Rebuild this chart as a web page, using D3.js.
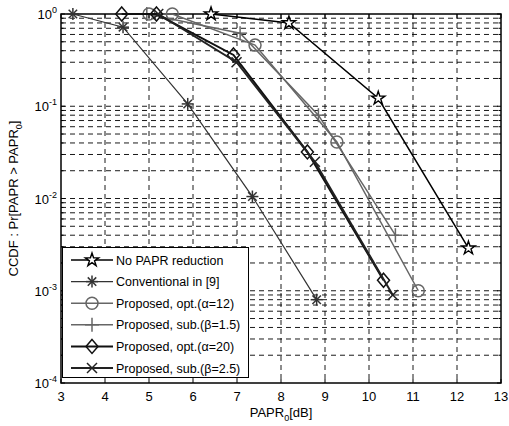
<!DOCTYPE html>
<html>
<head>
<script src="https://d3js.org/d3.v7.min.js"></script>
<style>
  body { margin: 0; background: #fff; }
  text { font-family: "Liberation Sans", Arial, sans-serif; }
</style>
</head>
<body>
<svg></svg>
<script>
// values
const noReduction = [[6.41, 1.0], [8.18, 0.80], [10.21, 0.122], [12.26, 0.0029]];
const conventional = [[3.27, 1.0], [4.41, 0.72], [5.88, 0.106], [7.35, 0.0105], [8.81, 0.0008]];
const optA12 = [[5.0, 1.0], [5.53, 1.0], [7.41, 0.46], [9.27, 0.041], [11.12, 0.001]];
const subB15 = [[4.95, 1.0], [7.07, 0.62], [8.85, 0.08], [10.6, 0.004]];
const optA20 = [[4.38, 1.0], [5.17, 1.0], [6.92, 0.36], [8.6, 0.032], [10.33, 0.0013]];
const subB25 = [[5.21, 1.0], [6.99, 0.30], [8.77, 0.025], [10.54, 0.0009]];

const seriesNames = ["No PAPR reduction", "Conventional in [9]", "Proposed, opt.(α=12)",
  "Proposed, sub.(β=1.5)", "Proposed, opt.(α=20)", "Proposed, sub.(β=2.5)"];
const xTicks = [3, 4, 5, 6, 7, 8, 9, 10, 11, 12, 13];
const yDecades = [0, -1, -2, -3, -4];

const series = [
  { name: seriesNames[0], data: noReduction, marker: "star", color: "#000", w: 1.5 },
  { name: seriesNames[1], data: conventional, marker: "asterisk", color: "#333", w: 1.2 },
  { name: seriesNames[2], data: optA12, marker: "circle", color: "#666", w: 1.5 },
  { name: seriesNames[3], data: subB15, marker: "plus", color: "#666", w: 1.5 },
  { name: seriesNames[4], data: optA20, marker: "diamond", color: "#111", w: 2 },
  { name: seriesNames[5], data: subB25, marker: "cross", color: "#222", w: 2 }
];

const width = 509, height = 426;
const margin = { left: 61, right: 8, top: 14, bottom: 43 };

const svg = d3.select("svg").attr("width", width).attr("height", height);

const x = d3.scaleLinear().domain([3, 13]).range([margin.left, width - margin.right]);
const y = d3.scaleLog().domain([1e-4, 1]).range([height - margin.bottom, margin.top]);

// grid
const minorVals = [];
for (let e = -4; e < 0; e++) for (let m = 1; m < 10; m++) minorVals.push(m * Math.pow(10, e));
minorVals.push(1);

const grid = svg.append("g");
grid.selectAll(".gv").data(xTicks.slice(1, -1)).enter().append("line")
  .attr("x1", d => x(d)).attr("x2", d => x(d))
  .attr("y1", y(1)).attr("y2", y(1e-4))
  .attr("stroke", "#000").attr("stroke-width", 0.9).attr("stroke-dasharray", "5,4");
grid.selectAll(".gh").data(minorVals.filter(v => v > 1e-4 && v < 1)).enter().append("line")
  .attr("x1", x(3)).attr("x2", x(13))
  .attr("y1", d => y(d)).attr("y2", d => y(d))
  .attr("stroke", "#000").attr("stroke-width", 0.9).attr("stroke-dasharray", "5,4");

// ticks on all sides
const ticks = svg.append("g").attr("stroke", "#000").attr("stroke-width", 1);
xTicks.forEach(t => {
  ticks.append("line").attr("x1", x(t)).attr("x2", x(t)).attr("y1", y(1e-4)).attr("y2", y(1e-4) - 4);
  ticks.append("line").attr("x1", x(t)).attr("x2", x(t)).attr("y1", y(1)).attr("y2", y(1) + 4);
});
minorVals.forEach(v => {
  const len = Number.isInteger(Math.log10(v)) ? 4 : 2.5;
  const yy = y(v);
  ticks.append("line").attr("x1", x(3)).attr("x2", x(3) + len).attr("y1", yy).attr("y2", yy);
  ticks.append("line").attr("x1", x(13)).attr("x2", x(13) - len).attr("y1", yy).attr("y2", yy);
});

// frame
svg.append("rect")
  .attr("x", x(3)).attr("y", y(1))
  .attr("width", x(13) - x(3)).attr("height", y(1e-4) - y(1))
  .attr("fill", "none").attr("stroke", "#000").attr("stroke-width", 1.5);

// tick labels
svg.selectAll(".xl").data(xTicks).enter().append("text")
  .attr("x", d => x(d)).attr("y", y(1e-4) + 18)
  .attr("text-anchor", "middle").attr("font-size", 13).text(d => d);

yDecades.forEach(e => {
  const t = svg.append("text").attr("x", x(3) - 4).attr("y", y(Math.pow(10, e)) + 5)
    .attr("text-anchor", "end").attr("font-size", 13);
  t.append("tspan").text("10");
  t.append("tspan").attr("dy", -6).attr("font-size", 9).text(e);
});

// axis labels
const xl = svg.append("text").attr("x", (x(3) + x(13)) / 2).attr("y", 417)
  .attr("text-anchor", "middle").attr("font-size", 13);
xl.append("tspan").text("PAPR");
xl.append("tspan").attr("dy", 4).attr("font-size", 9).text("0");
xl.append("tspan").attr("dy", -4).text("[dB]");

const yl = svg.append("text")
  .attr("transform", `translate(18,${(y(1) + y(1e-4)) / 2}) rotate(-90)`)
  .attr("text-anchor", "middle").attr("font-size", 13);
yl.append("tspan").text("CCDF : Pr[PAPR > PAPR");
yl.append("tspan").attr("dy", 4).attr("font-size", 9).text("0");
yl.append("tspan").attr("dy", -4).text("]");

// markers
function drawMarker(g, type, cx, cy, color) {
  const s = g.append("g").attr("transform", `translate(${cx},${cy})`)
    .attr("stroke", color).attr("fill", "none").attr("stroke-width", 1.5);
  if (type === "star") {
    s.append("path").attr("d", d3.symbol(d3.symbolStar, 55)())
      .attr("fill", "#fff").attr("stroke-width", 1.4);
  } else if (type === "asterisk") {
    for (let k = 0; k < 4; k++) {
      const a = k * Math.PI / 4;
      s.append("line").attr("x1", -6 * Math.cos(a)).attr("y1", -6 * Math.sin(a))
        .attr("x2", 6 * Math.cos(a)).attr("y2", 6 * Math.sin(a));
    }
  } else if (type === "circle") {
    s.append("circle").attr("r", 6);
  } else if (type === "plus") {
    s.append("line").attr("x1", -7).attr("x2", 7);
    s.append("line").attr("y1", -7).attr("y2", 7);
  } else if (type === "diamond") {
    s.append("path").attr("d", "M0,-7L6,0L0,7L-6,0Z");
  } else if (type === "cross") {
    s.append("line").attr("x1", -5).attr("y1", -5).attr("x2", 5).attr("y2", 5);
    s.append("line").attr("x1", -5).attr("y1", 5).attr("x2", 5).attr("y2", -5);
  }
}

const line = d3.line().x(d => x(d[0])).y(d => y(d[1]));
const plot = svg.append("g");
series.forEach(s => {
  plot.append("path").datum(s.data).attr("d", line)
    .attr("fill", "none").attr("stroke", s.color).attr("stroke-width", s.w);
  s.data.forEach(d => drawMarker(plot, s.marker, x(d[0]), y(d[1]), s.color));
});

// legend
const lg = svg.append("g");
lg.append("rect").attr("x", 62.5).attr("y", 247.5).attr("width", 186).attr("height", 130)
  .attr("fill", "#fff").attr("stroke", "#000").attr("stroke-width", 1);
series.forEach((s, i) => {
  const yy = 260 + i * 21.6;
  lg.append("line").attr("x1", 71).attr("x2", 113).attr("y1", yy).attr("y2", yy)
    .attr("stroke", s.color).attr("stroke-width", s.w);
  drawMarker(lg, s.marker, 92, yy, s.color);
  const t = lg.append("text").attr("x", 116).attr("y", yy + 4.5).attr("font-size", 12.5);
  t.text(s.name);
});
</script>
</body>
</html>
